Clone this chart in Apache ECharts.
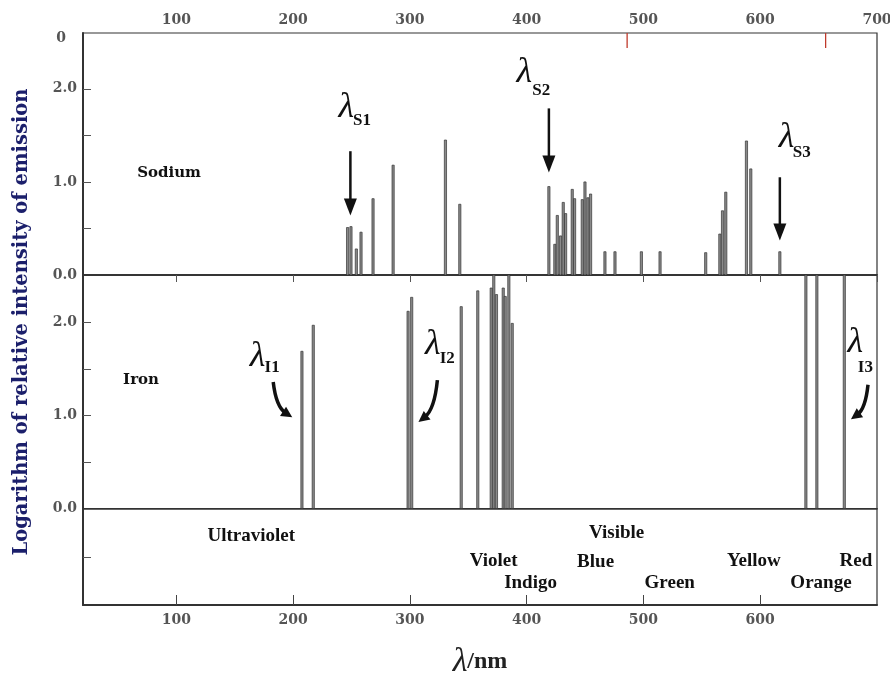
<!DOCTYPE html>
<html><head><meta charset="utf-8">
<script src="https://cdn.jsdelivr.net/npm/echarts@6/dist/echarts.min.js"></script>
<style>html,body{margin:0;padding:0;background:#fff;overflow:hidden}#c{width:890px;height:673px}</style>
</head><body><div id="c"></div>
<script>
// ---------- data ----------
const xTicksTop = [100, 200, 300, 400, 500, 600, 700];
const xTicksBottom = [100, 200, 300, 400, 500, 600];
const yTickValues = [0.5, 1.0, 1.5, 2.0];
const yLabelValues = [0, 1, 2];

const sodiumNm  = [246.6, 249.5, 254.1, 258.1, 268.4, 285.6, 330.4, 342.7, 419.0, 424.1, 426.2, 429.0, 431.3, 433.3, 439.0, 441.0, 447.6, 449.9, 452.4, 454.7, 467.0, 475.6, 498.2, 514.2, 553.3, 565.4, 567.7, 570.5, 588.2, 591.9, 616.8];
const sodiumLog = [0.51, 0.52, 0.28, 0.46, 0.82, 1.18, 1.45, 0.76, 0.95, 0.33, 0.64, 0.42, 0.78, 0.66, 0.92, 0.82, 0.81, 1.00, 0.83, 0.87, 0.25, 0.25, 0.25, 0.25, 0.24, 0.44, 0.69, 0.89, 1.44, 1.14, 0.25];

// values of 2.6 run off the top of the iron panel
const ironNm  = [207.5, 217.2, 298.4, 301.5, 343.9, 358.1, 369.6, 371.8, 374.1, 379.9, 381.6, 384.7, 387.6, 639.1, 648.5, 672.0];
const ironLog = [1.69, 1.97, 2.12, 2.27, 2.17, 2.34, 2.37, 2.6, 2.30, 2.37, 2.28, 2.6, 1.99, 2.6, 2.6, 2.6];

const hydrogenMarksNm = [486, 656];

const regionNames = ['Ultraviolet', 'Visible', 'Violet', 'Indigo', 'Blue', 'Green', 'Yellow', 'Orange', 'Red'];
const regionNm    = [164.1, 477.0, 371.6, 403.3, 459.0, 522.5, 594.5, 652.0, 682.0];
const regionY     = [0.71, 0.74, 0.45, 0.23, 0.44, 0.23, 0.45, 0.23, 0.45];

const panelNames = ['Sodium', 'Iron'];
const panelNm    = [93.7, 69.7];
const panelY     = [1.10, 1.38];

const lambdaSubs   = ['S1', 'S2', 'S3', 'I1', 'I2', 'I3'];
const lambdaPanel  = [0, 0, 0, 1, 1, 1];
const lambdaAt     = [[245.5, 1.80], [398.0, 2.17], [622.5, 1.48], [169.5, 1.63], [319.5, 1.76], [681.5, 1.78]];
const lambdaSubAt  = [[259.0, 1.66], [412.5, 1.98], [635.5, 1.31], [182.0, 1.51], [332.0, 1.61], [690.0, 1.51]];

const straightArrowNm   = [249.0, 419.0, 616.8];
const straightArrowFrom = [1.33, 1.79, 1.05];
const straightArrowTo   = [0.64, 1.10, 0.37];

const curvedArrowFrom = [[182.9, 1.36], [323.5, 1.38], [692.3, 1.33]];
const curvedArrowTo   = [[199.2, 0.98], [307.3, 0.93], [677.7, 0.96]];

// ---------- chart ----------
const chart = echarts.init(document.getElementById('c'));
const tickFont = {color: '#555', fontFamily: 'DejaVu Serif', fontSize: 14, fontWeight: 'bold'};
const LC = '#333';

function spectralLine(params, api) {
  const cs = params.coordSys;
  const x = api.value(0), v = api.value(1);
  const p0 = api.coord([x, 0]);
  const p1 = api.coord([x, v]);
  const top = Math.max(p1[1], cs.y);
  return {type: 'rect', shape: {x: p0[0] - 1.1, y: top, width: 2.2, height: p0[1] - top},
          style: {fill: '#8a8a8a', stroke: '#333', lineWidth: 0.7}};
}
function redMark(params, api) {
  const p = api.coord([api.value(0), api.value(1)]);
  return {type: 'line', shape: {x1: p[0], y1: params.coordSys.y, x2: p[0], y2: params.coordSys.y + 15},
          style: {stroke: '#c0392b', lineWidth: 1.3}};
}

const gridBase = {left: 83, right: 13, show: true, borderColor: LC, borderWidth: 1.2,
                  containLabel: false, outerBoundsMode: 'none'};
const baseX = {type: 'value', min: 20, max: 700, splitLine: {show: false}};
const option = {
  animation: false,
  backgroundColor: '#fff',
  grid: [
    Object.assign({top: 33, height: 242}, gridBase),
    Object.assign({top: 275, height: 233.5}, gridBase),
    Object.assign({top: 508.5, height: 96.5}, gridBase)
  ],
  xAxis: [
    Object.assign({}, baseX, {gridIndex: 0, position: 'top',
      axisLine: {show: true, lineStyle: {color: LC, width: 1.5}},
      axisTick: {show: true, inside: true, length: 7, customValues: xTicksTop, lineStyle: {color: '#555'}},
      axisLabel: Object.assign({customValues: xTicksTop, margin: 6}, tickFont)}),
    Object.assign({}, baseX, {gridIndex: 0, position: 'bottom',
      axisLine: {show: true, lineStyle: {color: LC, width: 1.5}}, axisTick: {show: false}, axisLabel: {show: false}}),
    Object.assign({}, baseX, {gridIndex: 1, position: 'bottom',
      axisLine: {show: true, lineStyle: {color: LC, width: 1.5}}, axisTick: {show: false}, axisLabel: {show: false}}),
    Object.assign({}, baseX, {gridIndex: 2, position: 'bottom',
      axisLine: {show: true, lineStyle: {color: LC, width: 2}},
      axisTick: {show: true, inside: true, length: 10, customValues: xTicksBottom, lineStyle: {color: '#444'}},
      axisLabel: Object.assign({customValues: xTicksBottom, margin: 8}, tickFont),
      name: '{a|λ}{b|/nm}', nameLocation: 'middle', nameGap: 40,
      nameTextStyle: {rich: {
        a: {fontFamily: 'Liberation Serif', fontStyle: 'italic', fontSize: 34, color: '#222'},
        b: {fontFamily: 'Liberation Serif', fontWeight: 'bold', fontSize: 24, color: '#222'}}}})
  ],
  yAxis: [
    {type: 'value', gridIndex: 0, min: 0, max: 2.6, splitLine: {show: false},
     axisLine: {show: true, lineStyle: {color: LC, width: 2}},
     axisTick: {show: true, inside: true, length: 8, customValues: yTickValues, lineStyle: {color: '#555'}},
     axisLabel: Object.assign({customValues: yLabelValues, margin: 6, formatter: v => v.toFixed(1)}, tickFont)},
    {type: 'value', gridIndex: 1, min: 0, max: 2.51, splitLine: {show: false},
     axisLine: {show: true, lineStyle: {color: LC, width: 2}},
     axisTick: {show: true, inside: true, length: 8, customValues: yTickValues, lineStyle: {color: '#555'}},
     axisLabel: Object.assign({customValues: yLabelValues, margin: 6, formatter: v => v.toFixed(1)}, tickFont)},
    {type: 'value', gridIndex: 2, min: 0, max: 1, splitLine: {show: false},
     axisLine: {show: true, lineStyle: {color: LC, width: 2}},
     axisTick: {show: true, inside: true, length: 8, customValues: [0.5], lineStyle: {color: '#555'}},
     axisLabel: {show: false}}
  ],
  series: [
    {type: 'custom', name: 'Sodium', xAxisIndex: 1, yAxisIndex: 0, renderItem: spectralLine,
     data: sodiumNm.map((x, i) => [x, sodiumLog[i]])},
    {type: 'custom', name: 'Iron', xAxisIndex: 2, yAxisIndex: 1, renderItem: spectralLine,
     data: ironNm.map((x, i) => [x, ironLog[i]])},
    {type: 'custom', name: 'H', xAxisIndex: 0, yAxisIndex: 0, renderItem: redMark,
     data: hydrogenMarksNm.map(x => [x, 2.6])}
  ]
};
chart.setOption(option);

// ---------- annotations ----------
const px = (g, p) => chart.convertToPixel({gridIndex: g}, p);
const gr = [];
const annFont = 'Liberation Serif';

gr.push({type: 'text', rotation: Math.PI / 2, x: 22, y: 322,
  style: {text: 'Logarithm of relative intensity of emission', fontFamily: 'DejaVu Serif', fontWeight: 'bold',
          fontSize: 19.5, fill: '#1b1f6b', align: 'center', verticalAlign: 'middle'}});

const topLbl = px(0, [20, 2.54]);
gr.push({type: 'text', x: topLbl[0] - 22, y: topLbl[1],
  style: Object.assign({text: '0', align: 'center', verticalAlign: 'middle', fill: '#555'},
    {fontFamily: 'DejaVu Serif', fontSize: 14, fontWeight: 'bold'})});

panelNames.forEach((n, i) => {
  const p = px(i, [panelNm[i], panelY[i]]);
  gr.push({type: 'text', x: p[0], y: p[1], style: {text: n, fontFamily: 'DejaVu Serif', fontWeight: 'bold',
    fontSize: 15, fill: '#111', align: 'center', verticalAlign: 'middle'}});
});

regionNames.forEach((n, i) => {
  const p = px(2, [regionNm[i], regionY[i]]);
  gr.push({type: 'text', x: p[0], y: p[1], style: {text: n, fontFamily: annFont, fontWeight: 'bold',
    fontSize: 19, fill: '#111', align: 'center', verticalAlign: 'middle'}});
});

lambdaSubs.forEach((s, i) => {
  const p = px(lambdaPanel[i], lambdaAt[i]);
  const q = px(lambdaPanel[i], lambdaSubAt[i]);
  gr.push({type: 'text', x: p[0], y: p[1], style: {text: 'λ', fontFamily: annFont, fontStyle: 'italic',
    fontSize: 36, fill: '#111', align: 'center', verticalAlign: 'middle'}});
  gr.push({type: 'text', x: q[0], y: q[1], style: {text: s, fontFamily: annFont, fontWeight: 'bold',
    fontSize: 17, fill: '#111', align: 'center', verticalAlign: 'middle'}});
});

function head(tip, dx, dy, len, w) {
  const L = Math.hypot(dx, dy), ux = dx / L, uy = dy / L;
  const bx = tip[0] - ux * len, by = tip[1] - uy * len;
  return {type: 'polygon', shape: {points: [[tip[0], tip[1]], [bx - uy * w / 2, by + ux * w / 2], [bx + uy * w / 2, by - ux * w / 2]]},
          style: {fill: '#111'}};
}

straightArrowNm.forEach((x, i) => {
  const a = px(0, [x, straightArrowFrom[i]]);
  const b = px(0, [x, straightArrowTo[i]]);
  gr.push({type: 'line', shape: {x1: a[0], y1: a[1], x2: b[0], y2: b[1] - 12}, style: {stroke: '#111', lineWidth: 2.5}});
  gr.push(head(b, 0, 1, 17, 13));
});

curvedArrowFrom.forEach((f, i) => {
  const a = px(1, f);
  const b = px(1, curvedArrowTo[i]);
  const dx = b[0] - a[0], dy = b[1] - a[1];
  const c = [a[0] + 0.15 * dx, b[1] - 0.3 * dy];
  const hx = b[0] - c[0], hy = b[1] - c[1];
  const L = Math.hypot(hx, hy);
  const e = [b[0] - hx / L * 8, b[1] - hy / L * 8];
  gr.push({type: 'bezierCurve', shape: {x1: a[0], y1: a[1], x2: e[0], y2: e[1], cpx1: c[0], cpy1: c[1]},
           style: {stroke: '#111', lineWidth: 3.5, fill: null}});
  gr.push(head(b, hx, hy, 11, 11));
});

chart.setOption({graphic: gr});
</script></body></html>
